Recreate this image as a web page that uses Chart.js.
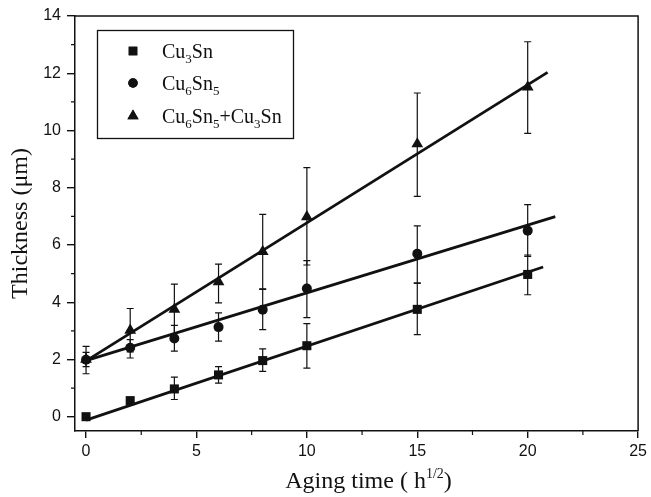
<!DOCTYPE html>
<html>
<head>
<meta charset="utf-8">
<script src="https://cdn.jsdelivr.net/npm/chart.js@4.4.0/dist/chart.umd.min.js"></script>
<style>
	html, body { margin: 0; padding: 0; background: #fff; }
	#wrap { width: 651px; height: 497px; }
</style>
</head>
<body>
<div id="wrap"><canvas id="chart" width="651" height="497"></canvas></div>
<script>
// values
const agingTime = [0, 2, 4, 6, 8, 10, 15, 20];

const cu3sn = [0, 0.56, 0.97, 1.46, 1.96, 2.48, 3.75, 4.97];
const cu3snLow = [-0.05, 0.45, 0.6, 1.17, 1.58, 1.7, 2.87, 4.26];
const cu3snHigh = [0.05, 0.68, 1.38, 1.75, 2.37, 3.25, 4.67, 5.65];

const cu6sn5 = [1.99, 2.41, 2.73, 3.13, 3.74, 4.48, 5.69, 6.5];
const cu6sn5Low = [1.5, 2.05, 2.29, 2.64, 3.04, 3.46, 4.67, 5.6];
const cu6sn5High = [2.46, 2.69, 3.19, 3.63, 4.45, 5.45, 6.67, 7.41];

const total = [2.0, 3.02, 3.75, 4.71, 5.77, 6.98, 9.53, 11.52];
const totalLow = [1.75, 2.26, 2.9, 3.98, 4.47, 5.3, 7.7, 9.9];
const totalHigh = [2.25, 3.78, 4.63, 5.33, 7.07, 8.7, 11.31, 13.1];

// linear fit end points [x, y]
const cu3snFit = [[0, -0.12], [20.7, 5.23]];
const cu6sn5Fit = [[0, 1.96], [21.25, 6.99]];
const totalFit = [[0, 1.95], [20.9, 12.03]];

const xTicks = [0, 5, 10, 15, 20, 25];
const xTickLabels = ['0', '5', '10', '15', '20', '25'];
const xMinorTicks = [2.5, 7.5, 12.5, 17.5, 22.5];
const yTicks = [0, 2, 4, 6, 8, 10, 12, 14];
const yTickLabels = ['0', '2', '4', '6', '8', '10', '12', '14'];
const yMinorTicks = [1, 3, 5, 7, 9, 11, 13];

const seriesNames = [['Cu', '3', 'Sn', ''], ['Cu', '6', 'Sn', '5'], ['Cu', '6', 'Sn', '5', '+Cu', '3', 'Sn', '']];
const seriesMarkers = ['rect', 'circle', 'triangle'];
const markerSizes = [6.4, 5, 6.8];

const ink = '#111';
const serif = '"Liberation Serif", "Times New Roman", serif';
const sans = '"Liberation Sans", Arial, sans-serif';

const toPts = (ys) => agingTime.map((x, i) => ({ x, y: ys[i] }));
const fitPts = (f) => f.map(p => ({ x: p[0], y: p[1] }));

function pointSet(ys, s) {
	return {
		type: 'scatter', data: toPts(ys), showLine: false,
		pointStyle: seriesMarkers[s], pointRadius: markerSizes[s], pointHoverRadius: markerSizes[s],
		backgroundColor: ink, borderColor: ink, borderWidth: 0, order: 1
	};
}
function fitSet(f) {
	return {
		type: 'line', data: fitPts(f), borderColor: ink, borderWidth: 2.8,
		pointRadius: 0, fill: false, tension: 0, order: 2
	};
}

const errors = [
	{ lo: cu3snLow, hi: cu3snHigh },
	{ lo: cu6sn5Low, hi: cu6sn5High },
	{ lo: totalLow, hi: totalHigh }
];

const decorPlugin = {
	id: 'decor',
	beforeDatasetsDraw(chart) {
		const { ctx, scales: { x, y } } = chart;
		ctx.save();
		ctx.strokeStyle = ink;
		ctx.lineWidth = 1.2;
		errors.forEach(e => {
			agingTime.forEach((t, i) => {
				const px = x.getPixelForValue(t);
				const y1 = y.getPixelForValue(e.lo[i]);
				const y2 = y.getPixelForValue(e.hi[i]);
				ctx.beginPath();
				ctx.moveTo(px, y1); ctx.lineTo(px, y2);
				ctx.moveTo(px - 3.5, y1); ctx.lineTo(px + 3.5, y1);
				ctx.moveTo(px - 3.5, y2); ctx.lineTo(px + 3.5, y2);
				ctx.stroke();
			});
		});
		ctx.restore();
	},
	afterDraw(chart) {
		const { ctx, chartArea: a, scales: { x, y } } = chart;
		ctx.save();
		ctx.strokeStyle = ink;
		ctx.lineWidth = 1.5;
		// top and right frame
		ctx.beginPath();
		ctx.moveTo(a.left, a.top); ctx.lineTo(a.right, a.top); ctx.lineTo(a.right, a.bottom);
		ctx.stroke();
		// minor ticks
		ctx.lineWidth = 1.2;
		ctx.beginPath();
		xMinorTicks.forEach(v => {
			const px = x.getPixelForValue(v);
			ctx.moveTo(px, a.bottom); ctx.lineTo(px, a.bottom + 4);
		});
		yMinorTicks.forEach(v => {
			const py = y.getPixelForValue(v);
			ctx.moveTo(a.left, py); ctx.lineTo(a.left - 4, py);
		});
		ctx.stroke();

		// x axis title with superscript
		ctx.fillStyle = ink;
		ctx.textBaseline = 'alphabetic';
		const main = '24px ' + serif, small = '14px ' + serif;
		const parts = [['Aging time ( h', main, 0], ['1/2', small, -10], [')', main, 0]];
		let w = 0;
		parts.forEach(p => { ctx.font = p[1]; w += ctx.measureText(p[0]).width; });
		let cx = (a.left + a.right) / 2 + 12 - w / 2;
		const base = 488;
		parts.forEach(p => {
			ctx.font = p[1];
			ctx.fillText(p[0], cx, base + p[2]);
			cx += ctx.measureText(p[0]).width;
		});

		// legend
		ctx.lineWidth = 1.3;
		ctx.strokeRect(97.5, 30.5, 196, 108);
		const rows = [51, 83, 116];
		const subFont = '13px ' + serif;
		seriesNames.forEach((name, s) => {
			const ry = rows[s];
			Chart.helpers.drawPoint(ctx, { pointStyle: seriesMarkers[s], radius: markerSizes[s] * 0.95, rotation: 0, borderWidth: 0 }, 133, ry);
			ctx.fill();
			let tx = 162;
			name.forEach((txt, k) => {
				const sub = k % 2 === 1;
				ctx.font = sub ? subFont : '20px ' + serif;
				ctx.fillText(txt, tx, ry + 7 + (sub ? 5 : 0));
				tx += ctx.measureText(txt).width;
			});
		});
		ctx.restore();
	}
};

new Chart(document.getElementById('chart'), {
	data: {
		datasets: [
			pointSet(cu3sn, 0),
			pointSet(cu6sn5, 1),
			pointSet(total, 2),
			fitSet(cu3snFit),
			fitSet(cu6sn5Fit),
			fitSet(totalFit)
		]
	},
	options: {
		responsive: false,
		animation: false,
		layout: { padding: { left: 0, right: 11, top: 16, bottom: 0 } },
		plugins: { legend: { display: false }, tooltip: { enabled: false } },
		scales: {
			x: {
				type: 'linear', min: -0.5, max: 25,
				afterBuildTicks: s => { s.ticks = xTicks.map(v => ({ value: v })); },
				afterFit: s => { s.height = 66; },
				grid: { drawOnChartArea: false, tickLength: 7, color: ink, lineWidth: 1.4 },
				border: { color: ink, width: 1.5 },
				ticks: { color: ink, font: { family: sans, size: 16 }, padding: 4, maxRotation: 0,
					callback: (v, i) => xTickLabels[i] }
			},
			y: {
				type: 'linear', min: -0.5, max: 14,
				afterBuildTicks: s => { s.ticks = yTicks.map(v => ({ value: v })); },
				afterFit: s => { s.width = 75; },
				grid: { drawOnChartArea: false, tickLength: 8, color: ink, lineWidth: 1.4 },
				border: { color: ink, width: 1.5 },
				ticks: { color: ink, font: { family: sans, size: 16 }, padding: 6,
					callback: (v, i) => yTickLabels[i] },
				title: { display: true, text: 'Thickness (μm)', color: ink,
					font: { family: serif, size: 24 }, padding: { top: 6, bottom: 2 } }
			}
		}
	},
	plugins: [decorPlugin]
});
</script>
</body>
</html>
